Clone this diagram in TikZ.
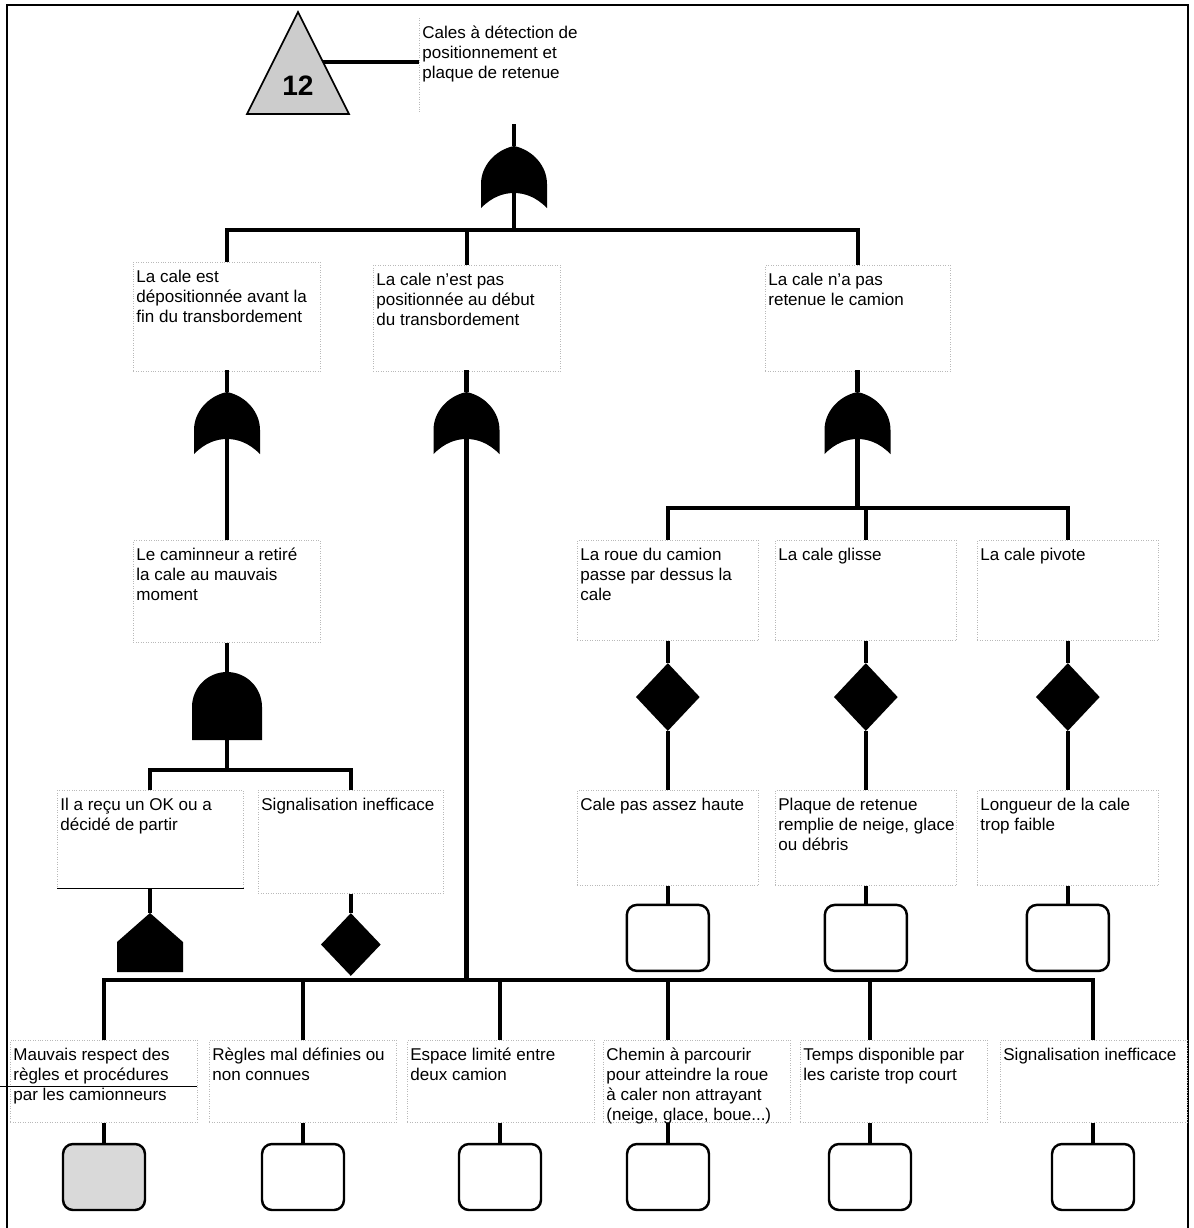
\documentclass[tikz,border=0pt]{standalone}
\usepackage{fontspec}
\setmainfont{Liberation Sans}
\usetikzlibrary{shapes.geometric}
\usetikzlibrary{positioning}
\newcommand{\evtxt}[3][3.62cm]{\parbox[t][#2][t]{#1}{\begin{tabular}[t]{@{}l@{}}#3\end{tabular}}}
\tikzset{
    link/.style = {line width=2.3pt},
    event/.style =  {
                        rectangle, draw=gray!55, densely dotted, line width=0.4pt,
                        anchor=north west, inner xsep=0.06cm, inner ysep=0.12cm,
                        font=\fontsize{9.7}{11.34}\selectfont
                    },
    cond/.style = {diamond, fill=black, inner sep=0pt, minimum width=1.28cm, minimum height=1.36cm},
    basic/.style = {rectangle, rounded corners=0.2cm, draw=black, line width=1.4pt,
                    minimum width=1.64cm, minimum height=1.32cm},
    or_gate/.pic = {
        \fill (0,0) .. controls (-19,4) and (-33,20) .. (-33,38) -- (-33,62)
              .. controls (-22,51) and (-11,47) .. (0,47)
              .. controls (11,47) and (22,51) .. (33,62) -- (33,38)
              .. controls (33,20) and (19,4) .. (0,0) -- cycle;
        \coordinate (-in) at (0,-22);
        \coordinate (-top) at (0,0);
        \coordinate (-out) at (0,47);
    },
    and_gate/.pic = {
        \fill (-35,68) -- (-35,35) arc[start angle=180, end angle=360, radius=35] -- (35,68) -- cycle;
        \coordinate (-top) at (0,0);
        \coordinate (-out) at (0,68);
    },
    house_gate/.pic = {
        \fill (0,0) -- (33,29) -- (33,59) -- (-33,59) -- (-33,29) -- cycle;
        \coordinate (-top) at (0,0);
    }
}
\begin{document}
\begin{tikzpicture}[x=0.02cm, y=-0.02cm]
    \useasboundingbox (0,0) rectangle (1194,1228);
    \draw[line width=1.1pt] (7,1228) -- (7,5) -- (1188,5) -- (1188,1228);

    % transfer symbol and top event
    \draw[line width=0.9pt, fill=gray!40] (298,12) -- (349,114) -- (247,114) -- cycle;
    \node (tri_num) at (298,86) {\fontsize{16}{16}\selectfont\bfseries 12};
    \coordinate (tri_edge) at (323,62);
    \node (title) [event, draw=none] at (419,18) {\evtxt{1.66cm}{Cales à détection de\\positionnement et\\plaque de retenue}};
    \draw[gray!55, densely dotted] (title.north west) -- (title.south west);
    \draw[link] (tri_edge) -- (tri_edge -| title.west);

    \pic (g_top) at (514,146) {or_gate};
    \coordinate (j_top) at (514,230);

    \node (ev_a) [event] at (133,262) {\evtxt{1.94cm}{La cale est\\dépositionnée avant la\\fin du transbordement}};
    \node (ev_b) [event] at (373,265) {\evtxt{1.88cm}{La cale n'est pas\\positionnée au début\\du transbordement}};
    \node (ev_c) [event] at (765,265) {\evtxt[3.58cm]{1.88cm}{La cale n'a pas\\retenue le camion}};

    % left branch
    \pic (g_a) at (227,392) {or_gate};
    \node (ev_d) [event] at (133,540) {\evtxt{1.8cm}{Le caminneur a retiré\\la cale au mauvais\\moment}};
    \pic (g_and) at (227,672) {and_gate};
    \coordinate (j_and) at (227,770);
    \node (ev_e) [event] at (57,790) {\evtxt[3.6cm]{1.72cm}{Il a reçu un OK ou a\\décidé de partir}};
    \node (ev_f) [event] at (258,790) {\evtxt[3.58cm]{1.82cm}{Signalisation inefficace}};
    \pic (h_e) at (150,913) {house_gate};
    \node (d_f) [cond, minimum width=1.2cm, minimum height=1.26cm, below=0.38cm of ev_f] {};

    % middle branch
    \pic (g_b) at (466.5,392) {or_gate};
    \coordinate (j_b) at (466.5,980);
    \node (ev_bot1) [event] at (10,1040) {\evtxt{1.4cm}{Mauvais respect des\\règles et procédures\\par les camionneurs}};
    \node (ev_bot2) [event] at (209,1040) {\evtxt{1.4cm}{Règles mal définies ou\\non connues}};
    \node (ev_bot3) [event] at (407,1040) {\evtxt{1.4cm}{Espace limité entre\\deux camion}};
    \node (ev_bot4) [event] at (603,1040) {\evtxt{1.4cm}{Chemin à parcourir\\pour atteindre la roue\\à caler non attrayant\\(neige, glace, boue...)}};
    \node (ev_bot5) [event] at (800,1040) {\evtxt{1.4cm}{Temps disponible par\\les cariste trop court}};
    \node (ev_bot6) [event] at (1000,1040) {\evtxt{1.4cm}{Signalisation inefficace}};
    \node (b_bot1) [basic, fill=gray!30] at (104,1177) {};
    \foreach \n/\x in {2/303, 3/500, 4/668, 5/870, 6/1093}
        \node (b_bot\n) [basic] at (\x,1177) {};
    \draw[line width=0.5pt] (0,1086) -- (197,1086);

    % right branch
    \pic (g_c) at (857.5,392) {or_gate};
    \coordinate (j_c) at (857.5,508);
    \node (ev_g1) [event] at (577,540) {\evtxt[3.5cm]{1.76cm}{La roue du camion\\passe par dessus la\\cale}};
    \node (ev_g2) [event] at (775,540) {\evtxt[3.5cm]{1.76cm}{La cale glisse}};
    \node (ev_g3) [event] at (977,540) {\evtxt[3.5cm]{1.76cm}{La cale pivote}};
    \node (ev_h1) [event] at (577,790) {\evtxt[3.5cm]{1.66cm}{Cale pas assez haute}};
    \node (ev_h2) [event] at (775,790) {\evtxt[3.5cm]{1.66cm}{Plaque de retenue\\remplie de neige, glace\\ou débris}};
    \node (ev_h3) [event] at (977,790) {\evtxt[3.5cm]{1.66cm}{Longueur de la cale\\trop faible}};
    \foreach \n in {1,2,3} {
        \node (d_g\n) [cond, below=0.44cm of ev_g\n] {};
        \node (b_h\n) [basic, below=0.36cm of ev_h\n] {};
    }

    % connectors
    \draw[link] (g_top-in) -- (g_top-top);
    \draw[link] (g_top-out) -- (j_top);
    \draw[link] (j_top) -| (ev_a.north);
    \draw[link] (j_top) -| (ev_b.north);
    \draw[link] (j_top) -| (ev_c.north);

    \draw[link] (g_a-in) -- (g_a-top);
    \draw[link] (g_a-out) -- (g_a-out |- ev_d.north);
    \draw[link] (g_and-top |- ev_d.south) -- (g_and-top);
    \draw[link] (g_and-out) -- (j_and);
    \draw[link] (j_and) -| (ev_e.north);
    \draw[link] (j_and) -| (ev_f.north);
    \draw[line width=0.5pt] (ev_e.south west) -- (ev_e.south east);
    \draw[link] (h_e-top |- ev_e.south) -- (h_e-top);
    \draw[link] (ev_f.south) -- (d_f.north);

    \draw[link] (g_b-in) -- (g_b-top);
    \draw[link] (g_b-out) -- (j_b);
    \foreach \n in {1,...,6} {
        \draw[link] (j_b) -| (b_bot\n.north |- ev_bot\n.north);
        \draw[link] (b_bot\n.north |- ev_bot\n.south) -- (b_bot\n.north);
    }

    \draw[link] (g_c-in) -- (g_c-top);
    \draw[link] (g_c-out) -- (j_c);
    \foreach \n in {1,2,3} {
        \draw[link] (j_c) -| (ev_g\n.north);
        \draw[link] (ev_g\n.south) -- (d_g\n.north);
        \draw[link] (d_g\n.south) -- (ev_h\n.north);
        \draw[link] (ev_h\n.south) -- (b_h\n.north);
    }
\end{tikzpicture}
\end{document}
